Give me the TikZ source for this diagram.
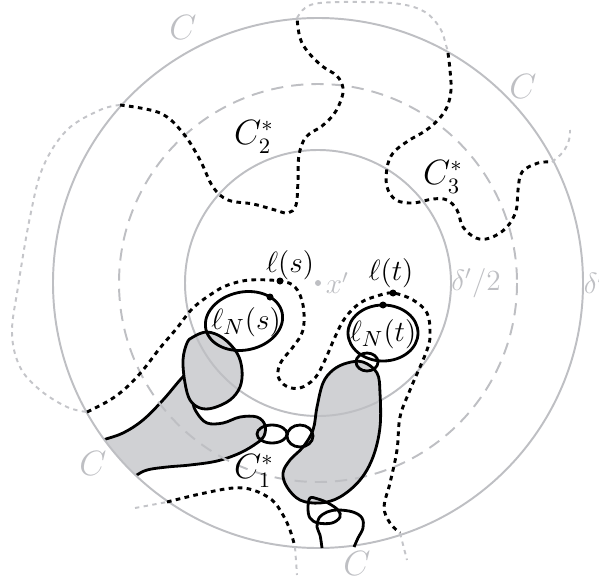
\documentclass[tikz,border=0pt]{standalone}
\usepackage{amsmath,amssymb}
\usepackage{xcolor}
\usepackage{tikz}
\definecolor{RingGray}{RGB}{190,191,195}
\definecolor{BlobGray}{RGB}{208,209,212}
\definecolor{FaintGray}{RGB}{196,197,201}

\tikzset{
  ring/.style={RingGray,line width=0.8pt},
  cutline/.style={black,line width=1.2pt,dash pattern=on 1.9pt off 1.8pt},
  cutext/.style={FaintGray,line width=0.8pt,dash pattern=on 1.8pt off 1.8pt},
  walk/.style={black,line width=1.15pt},
  glabel/.style={text=RingGray,inner sep=1pt,font=\fontsize{12}{14}\selectfont},
  blabel/.style={inner sep=1pt,font=\fontsize{12}{14}\selectfont},
  biglabel/.style={inner sep=1pt,font=\fontsize{13.5}{16}\selectfont},
  looplabel/.style={inner sep=0pt,font=\fontsize{12.5}{15}\selectfont},
}

\begin{document}
\begin{tikzpicture}[x=0.41pt,y=-0.41pt]
\useasboundingbox (0,0) rectangle (599,581);
\coordinate (xp) at (318,283);

% shaded clusters
\begin{scope}
  \clip (xp) circle (265);
  \fill[BlobGray] plot[smooth,tension=0.6] coordinates {(88,446) (103,440) (123,433) (143,420) (163,400)
    (180,380) (190,370) (197,367) (200,375) (197,390) (193,402) (197,413) (207,423) (223,423)
    (240,417) (257,417) (265,425) (264,436) (257,443) (240,453) (217,461) (190,465) (167,467)
    (147,470) (135,476) (124,482)} -- (80,520) -- (60,430) -- cycle;
  \draw[walk] plot[smooth,tension=0.6] coordinates {(88,446) (103,440) (123,433) (143,420) (163,400)
    (180,380) (190,370) (197,367) (200,375) (197,390) (193,402) (197,413) (207,423) (223,423)
    (240,417) (257,417) (265,425) (264,436) (257,443) (240,453) (217,461) (190,465) (167,467)
    (147,470) (135,476) (124,482)};
\end{scope}
\fill[BlobGray] plot[smooth cycle,tension=0.6] coordinates {(193,337) (207,332) (223,338) (237,353)
  (242,370) (240,387) (230,400) (213,408) (200,408) (190,400) (185,383) (183,360) (187,343)};
\fill[BlobGray] plot[smooth cycle,tension=0.6] coordinates {(347,363) (363,362) (377,373) (380,393)
  (380,427) (373,457) (360,480) (340,497) (320,503) (300,500) (287,487) (283,473) (290,460)
  (303,447) (313,430) (317,407) (323,383) (333,370)};

% circles around x'
\draw[ring] (xp) circle (133);
\draw[ring,dash pattern=on 5pt off 3.3pt] (xp) circle (199);
\draw[ring] (xp) circle (265);

% outlines
\draw[walk] plot[smooth cycle,tension=0.6] coordinates {(193,337) (207,332) (223,338) (237,353)
  (242,370) (240,387) (230,400) (213,408) (200,408) (190,400) (185,383) (183,360) (187,343)};
\draw[walk] plot[smooth cycle,tension=0.6] coordinates {(347,363) (363,362) (377,373) (380,393)
  (380,427) (373,457) (360,480) (340,497) (320,503) (300,500) (287,487) (283,473) (290,460)
  (303,447) (313,430) (317,407) (323,383) (333,370)};
\draw[walk,rotate around={12:(244,321)}] (244,321) ellipse (39 and 29);
\draw[walk] (383,333) ellipse (35 and 28);
\draw[walk] (272,434) ellipse (15 and 9);
\draw[walk] (300,436) ellipse (13 and 11);
\draw[walk] (367,362) ellipse (11 and 9);
\draw[walk] plot[smooth cycle,tension=0.6] coordinates {(310,498) (308,508) (310,518) (318,523)
  (332,523) (340,517) (338,510) (328,503) (318,499)};
\draw[walk] plot[smooth,tension=0.6] coordinates {(322,548) (320,535) (317,527) (319,518) (327,512)
  (338,510) (353,512) (362,518) (363,528) (358,538) (354,547)};

% dual paths
\draw[cutline] plot[smooth,tension=0.6] coordinates {(120,105) (160,113) (183,133) (200,160) (213,187)
  (228,200) (253,204) (275,210) (288,213) (296,205) (298,180) (299,155) (306,137) (322,126)
  (334,114) (341,100) (343,88) (337,76) (322,66) (308,52) (300,38) (297,18)};
\draw[cutline] plot[smooth,tension=0.6] coordinates {(448,53) (450,70) (451,90) (447,107) (438,120)
  (425,131) (408,141) (393,153) (387,168) (387,187) (396,200) (413,203) (433,199) (447,200)
  (457,210) (463,227) (476,238) (490,238) (506,228) (516,211) (518,190) (522,172) (538,163) (552,162)};
\draw[cutline] plot[smooth,tension=0.6] coordinates {(87,412) (110,400) (127,387) (143,370) (160,348)
  (177,328) (193,308) (213,293) (228,285) (250,280) (280,281) (295,287) (303,305) (303,330)
  (293,347) (281,362) (278,376) (286,386) (300,388) (315,378) (325,360) (335,337) (345,318)
  (360,303) (377,296) (393,293) (413,300) (427,313) (430,333) (427,350) (410,390) (400,417)
  (397,450) (390,483) (384,507) (390,523) (400,533)};
\draw[cutline] plot[smooth,tension=0.6] coordinates {(167,502) (200,494) (233,488) (253,490) (272,500)
  (283,515) (290,530) (295,547)};

% continuations outside C
\draw[cutext] plot[smooth,tension=0.6] coordinates {(120,105) (100,110) (67,130) (43,167) (30,217)
  (18,287) (12,333) (20,367) (40,390) (67,407) (87,412)};
\draw[cutext] plot[smooth,tension=0.6] coordinates {(297,18) (305,8) (320,3) (360,2) (400,4) (425,12)
  (440,28) (446,45) (448,53)};
\draw[cutext] plot[smooth,tension=0.6] coordinates {(552,162) (563,152) (569,140) (570,130)};
\draw[cutext] (135,508) -- (167,502);
\draw[cutext] (295,547) -- (297,575);
\draw[cutext] (400,533) -- (407,560);

% marked points
\coordinate (ls) at (280,281);
\coordinate (lt) at (393,293);
\coordinate (lNs) at (270,297);
\coordinate (lNt) at (383,305);
\foreach \p in {ls,lt,lNs,lNt} \fill (\p) circle (3.5);
\fill[RingGray] (xp) circle (3);

% labels
\node[blabel] (lsLabel) at (290,265) {$\ell(s)$};
\node[blabel] (ltLabel) at (391,273) {$\ell(t)$};
\node[glabel,anchor=west] (xpLabel) at (xp) {\,$x'$};
\node[looplabel] (lNsLabel) at (246,322) {$\ell_N(s)$};
\node[looplabel] (lNtLabel) at (383,334) {$\ell_N(t)$};
\node[glabel] (halfLabel) at (476,283) {$\delta'/2$};
\node[glabel,anchor=west] (fullLabel) at (581,283) {$\delta'$};
\node[biglabel,text=RingGray] (cA) at (183,28) {$C$};
\node[biglabel,text=RingGray] (cB) at (523,87) {$C$};
\node[biglabel,text=RingGray] (cC) at (93,463) {$C$};
\node[biglabel,text=RingGray] (cD) at (357,563) {$C$};
\node[biglabel] (c1) at (254,471) {$C_1^*$};
\node[biglabel] (c2) at (254,137) {$C_2^*$};
\node[biglabel] (c3) at (443,177) {$C_3^*$};
\end{tikzpicture}
\end{document}
